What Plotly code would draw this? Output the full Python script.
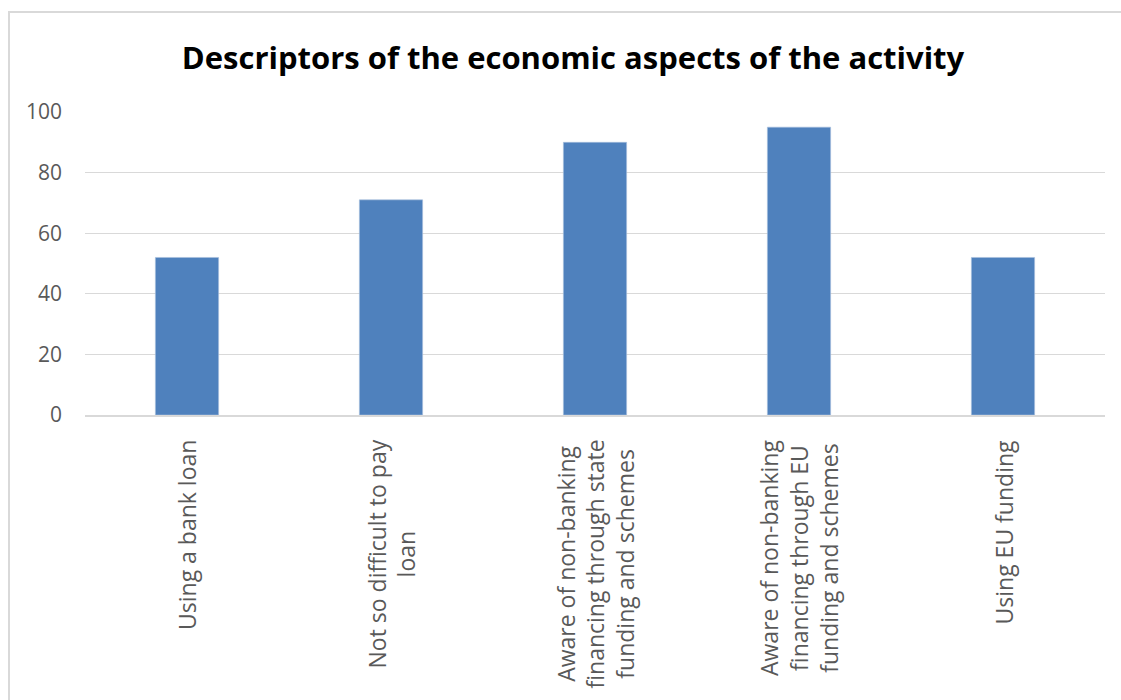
import plotly.graph_objects as go

categories = [
    "Using a bank loan",
    "Not so difficult to pay<br>loan",
    "Aware of non-banking<br>financing through state<br>funding and schemes",
    "Aware of non-banking<br>financing through EU<br>funding and schemes",
    "Using EU funding",
]
values = [52, 71, 90, 95, 52]
y_ticks = [0, 20, 40, 60, 80, 100]

FONT = "Open Sans"
GRID = "#d9d9d9"
TEXT = "#595959"

W, H = 1121, 700
ML, MR, MT, MB = 85, 16, 112, 285

xs = list(range(len(categories)))

fig = go.Figure(
    go.Bar(
        x=xs,
        y=values,
        width=0.31,
        marker=dict(color="#4f81bd", line=dict(color="#a7c0de", width=0.6)),
        hoverinfo="skip",
    )
)

# rotated, centre-aligned category labels below the axis
for i, label in enumerate(categories):
    fig.add_annotation(
        x=i, xref="x",
        y=-23 / (H - MT - MB), yref="paper",
        text=label,
        textangle=-90,
        showarrow=False,
        xanchor="center", yanchor="top",
        align="center",
        font=dict(family=FONT, size=23, color=TEXT),
    )

# chart frame border
pw, ph = W - ML - MR, H - MT - MB
left = (9 - ML) / pw
top = 1 + (MT - 12) / ph
fig.add_shape(
    type="path", xref="paper", yref="paper",
    path=f"M {left} -2 L {left} {top} L 1.2 {top}",
    line=dict(color=GRID, width=2),
)

fig.update_layout(
    width=W, height=H,
    margin=dict(l=ML, r=MR, t=MT, b=MB),
    paper_bgcolor="white", plot_bgcolor="white",
    showlegend=False,
    title=dict(
        text="<b>Descriptors of the economic aspects of the activity</b>",
        x=573 / W, xanchor="center",
        y=1 - 58 / H, yanchor="middle",
        font=dict(family=FONT, size=31, color="black"),
    ),
    xaxis=dict(
        range=[-0.5, len(categories) - 0.5],
        showticklabels=False, ticks="",
        showgrid=False, zeroline=False,
        showline=True, linecolor=GRID, linewidth=1.5,
    ),
    yaxis=dict(
        range=[0, 100],
        tickvals=y_ticks,
        showgrid=True, gridcolor=GRID, gridwidth=1.3,
        zeroline=False, showline=False, ticks="",
        ticklabelstandoff=22,
        tickfont=dict(family=FONT, size=21, color=TEXT),
    ),
)

fig.write_html("out.html")
